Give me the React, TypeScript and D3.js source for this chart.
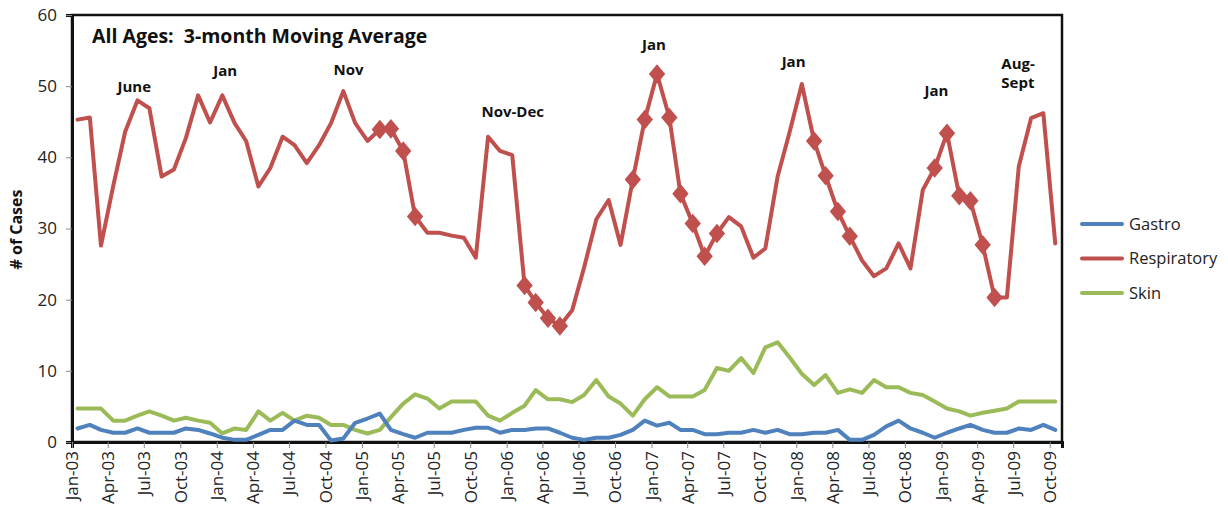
import React, { useEffect, useRef } from "react";
import * as d3 from "d3";

// monthly 3-month moving averages, Jan-03 .. Oct-09
const startMonth = new Date(2003, 0, 15);

const respiratory = [
  45.3, 45.6, 27.6, 36.0, 43.6, 48.0, 46.9, 37.3, 38.3, 42.7, 48.7, 44.9,
  48.7, 44.8, 42.3, 35.9, 38.5, 42.9, 41.7, 39.2, 41.7, 44.8, 49.3, 44.8,
  42.3, 43.9, 44.0, 40.9, 31.7, 29.4, 29.4, 29.0, 28.7, 25.9, 42.9, 40.9,
  40.3, 22.0, 19.6, 17.4, 16.3, 18.5, 24.5, 31.3, 34.0, 27.7, 36.9, 45.3,
  51.7, 45.6, 34.9, 30.7, 26.1, 29.3, 31.6, 30.3, 25.9, 27.2, 37.3, 43.5,
  50.3, 42.3, 37.4, 32.4, 28.9, 25.5, 23.3, 24.4, 27.9, 24.4, 35.4, 38.5,
  43.4, 34.6, 33.9, 27.7, 20.3, 20.3, 38.7, 45.5, 46.2, 27.9,
];

const gastro = [
  1.9, 2.4, 1.7, 1.3, 1.3, 1.9, 1.3, 1.3, 1.3, 1.9, 1.7, 1.2,
  0.6, 0.3, 0.3, 1.0, 1.7, 1.7, 3.0, 2.4, 2.4, 0.2, 0.5, 2.7,
  3.3, 4.0, 1.7, 1.1, 0.6, 1.3, 1.3, 1.3, 1.7, 2.0, 2.0, 1.3,
  1.7, 1.7, 1.9, 1.9, 1.3, 0.6, 0.3, 0.6, 0.6, 1.0, 1.7, 3.0,
  2.3, 2.7, 1.7, 1.7, 1.1, 1.1, 1.3, 1.3, 1.7, 1.3, 1.7, 1.1,
  1.1, 1.3, 1.3, 1.7, 0.3, 0.3, 1.0, 2.2, 3.0, 1.9, 1.3, 0.6,
  1.3, 1.9, 2.4, 1.7, 1.3, 1.3, 1.9, 1.7, 2.4, 1.7,
];

const skin = [
  4.7, 4.7, 4.7, 3.0, 3.0, 3.7, 4.3, 3.7, 3.0, 3.4, 3.0, 2.7,
  1.2, 1.9, 1.7, 4.3, 3.0, 4.1, 3.0, 3.7, 3.4, 2.4, 2.4, 1.7,
  1.2, 1.7, 3.5, 5.4, 6.7, 6.1, 4.7, 5.7, 5.7, 5.7, 3.7, 3.0,
  4.1, 5.1, 7.3, 6.0, 6.0, 5.6, 6.6, 8.7, 6.4, 5.4, 3.7, 6.0,
  7.7, 6.4, 6.4, 6.4, 7.3, 10.4, 10.0, 11.8, 9.7, 13.3, 14.0, 11.9,
  9.6, 8.0, 9.4, 6.9, 7.4, 6.9, 8.7, 7.7, 7.7, 6.9, 6.6, 5.7,
  4.7, 4.3, 3.7, 4.1, 4.4, 4.7, 5.7, 5.7, 5.7, 5.7,
];

// months flagged with a diamond on the respiratory line
const flagged = [25, 26, 27, 28, 37, 38, 39, 40, 46, 47, 48, 49, 50, 51, 52, 53, 61, 62, 63, 64, 71, 72, 73, 74, 75, 76];

const seriesNames = ["Gastro", "Respiratory", "Skin"];
const seriesColors = ["#4F81BD", "#C0504D", "#9BBB59"];

const yTicks = [0, 10, 20, 30, 40, 50, 60];

// peak annotations: text, month index, value at baseline, anchor
const notes = [
  { text: "June", month: 5.2, value: 49.2, anchor: "middle" },
  { text: "Jan", month: 12.7, value: 51.4, anchor: "middle" },
  { text: "Nov", month: 22.9, value: 51.6, anchor: "middle" },
  { text: "Nov-Dec", month: 36.5, value: 45.7, anchor: "middle" },
  { text: "Jan", month: 48.2, value: 55.1, anchor: "middle" },
  { text: "Jan", month: 59.8, value: 52.7, anchor: "middle" },
  { text: "Jan", month: 71.6, value: 48.6, anchor: "middle" },
  { text: "Aug-", month: 77.0, value: 52.4, anchor: "start" },
  { text: "Sept", month: 77.0, value: 49.7, anchor: "start" },
];

const W = 1228;
const H = 511;
const FONT = "'Open Sans', Lato, sans-serif";

const App: React.FC = () => {
  const svgRef = useRef<SVGSVGElement>(null);

  useEffect(() => {
    if (!svgRef.current) return;
    const svg = d3.select(svgRef.current);
    svg.selectAll("*").remove();

    const left = 72;
    const right = 1062;
    const top = 15;
    const bottom = 442;

    const dates = respiratory.map((_, i) => d3.timeMonth.offset(startMonth, i));
    const x = d3
      .scaleTime()
      .domain([new Date(2003, 0, 1), new Date(2009, 10, 1)])
      .range([left, right]);
    const y = d3.scaleLinear().domain([0, 60]).range([bottom, top]);
    const monthX = (m: number) => {
      const whole = Math.floor(m);
      const d0 = d3.timeMonth.offset(new Date(2003, 0, 1), whole);
      return x(d0) + (m - whole) * 12.07;
    };

    const g = svg.append("g");

    // plot frame
    g.append("rect")
      .attr("x", left)
      .attr("y", top)
      .attr("width", right - left)
      .attr("height", bottom - top)
      .attr("fill", "white")
      .attr("stroke", "#111")
      .attr("stroke-width", 2.5);

    // y axis
    const yAxis = g
      .append("g")
      .attr("transform", `translate(${left},0)`)
      .call(d3.axisLeft(y).tickValues(yTicks).tickSize(6).tickPadding(9));
    yAxis.select(".domain").attr("stroke", "#111").attr("stroke-width", 3);
    yAxis.selectAll(".tick line").attr("stroke", "#888");
    yAxis
      .selectAll(".tick text")
      .attr("font-family", FONT)
      .attr("font-size", 17)
      .attr("fill", "#222");

    // x axis
    const xTicks = d3.timeMonth.every(3)!.range(new Date(2003, 0, 1), new Date(2009, 10, 1));
    const xAxis = g
      .append("g")
      .attr("transform", `translate(0,${bottom})`)
      .call(
        d3
          .axisBottom(x)
          .tickValues(xTicks)
          .tickFormat((d) => d3.timeFormat("%b-%y")(d as Date))
          .tickSize(6)
          .tickPadding(8)
      );
    xAxis.select(".domain").attr("stroke", "#111").attr("stroke-width", 3);
    xAxis.selectAll(".tick line").attr("stroke", "#888");
    xAxis
      .selectAll<SVGTextElement, Date>(".tick text")
      .attr("font-family", FONT)
      .attr("font-size", 17)
      .attr("fill", "#222")
      .attr("text-anchor", "end")
      .attr("transform", "rotate(-90)")
      .attr("x", -9)
      .attr("y", 0)
      .attr("dy", "0.35em");

    // y title
    g.append("text")
      .attr("transform", `translate(22,${(top + bottom) / 2 + 1}) rotate(-90)`)
      .attr("text-anchor", "middle")
      .attr("font-family", FONT)
      .attr("font-size", 16)
      .attr("font-weight", "bold")
      .attr("fill", "#111")
      .text("# of Cases");

    // chart title
    g.append("text")
      .attr("x", 92)
      .attr("y", 43)
      .attr("font-family", FONT)
      .attr("font-size", 19.5)
      .attr("font-weight", "bold")
      .attr("fill", "#111")
      .attr("xml:space", "preserve")
      .text("All Ages:  3-month Moving Average");

    const line = d3
      .line<number>()
      .x((_, i) => x(dates[i]))
      .y((d) => y(d));

    const all = [gastro, respiratory, skin];
    // draw skin first, then gastro, respiratory on top
    [2, 0, 1].forEach((k) => {
      g.append("path")
        .datum(all[k])
        .attr("d", line)
        .attr("fill", "none")
        .attr("stroke", seriesColors[k])
        .attr("stroke-width", 4)
        .attr("stroke-linejoin", "round")
        .attr("stroke-linecap", "round");
    });

    const diamond = d3.symbol().type(d3.symbolDiamond).size(110);
    g.selectAll(".flag")
      .data(flagged)
      .join("path")
      .attr("class", "flag")
      .attr("transform", (i) => `translate(${x(dates[i])},${y(respiratory[i])}) scale(1.45,1)`)
      .attr("d", diamond)
      .attr("fill", "#C0504D");

    // annotations
    g.selectAll(".note")
      .data(notes)
      .join("text")
      .attr("class", "note")
      .attr("x", (d) => monthX(d.month))
      .attr("y", (d) => y(d.value))
      .attr("text-anchor", (d) => d.anchor)
      .attr("font-family", FONT)
      .attr("font-size", 15)
      .attr("font-weight", "bold")
      .attr("fill", "#111")
      .text((d) => d.text);

    // legend
    const legend = g.append("g").attr("transform", "translate(1082,224)");
    seriesNames.forEach((name, i) => {
      const row = legend.append("g").attr("transform", `translate(0,${i * 34.5})`);
      row.append("line")
        .attr("x1", 0)
        .attr("x2", 40)
        .attr("stroke", seriesColors[i])
        .attr("stroke-width", 4)
        .attr("stroke-linecap", "round");
      row.append("text")
        .attr("x", 47)
        .attr("dy", "0.35em")
        .attr("font-family", FONT)
        .attr("font-size", 16.5)
        .attr("fill", "#222")
        .text(name);
    });
  }, []);

  return (
    <svg
      ref={svgRef}
      width={W}
      height={H}
      style={{ position: "absolute", left: 0, top: 0, background: "white" }}
    />
  );
};

export default App;
